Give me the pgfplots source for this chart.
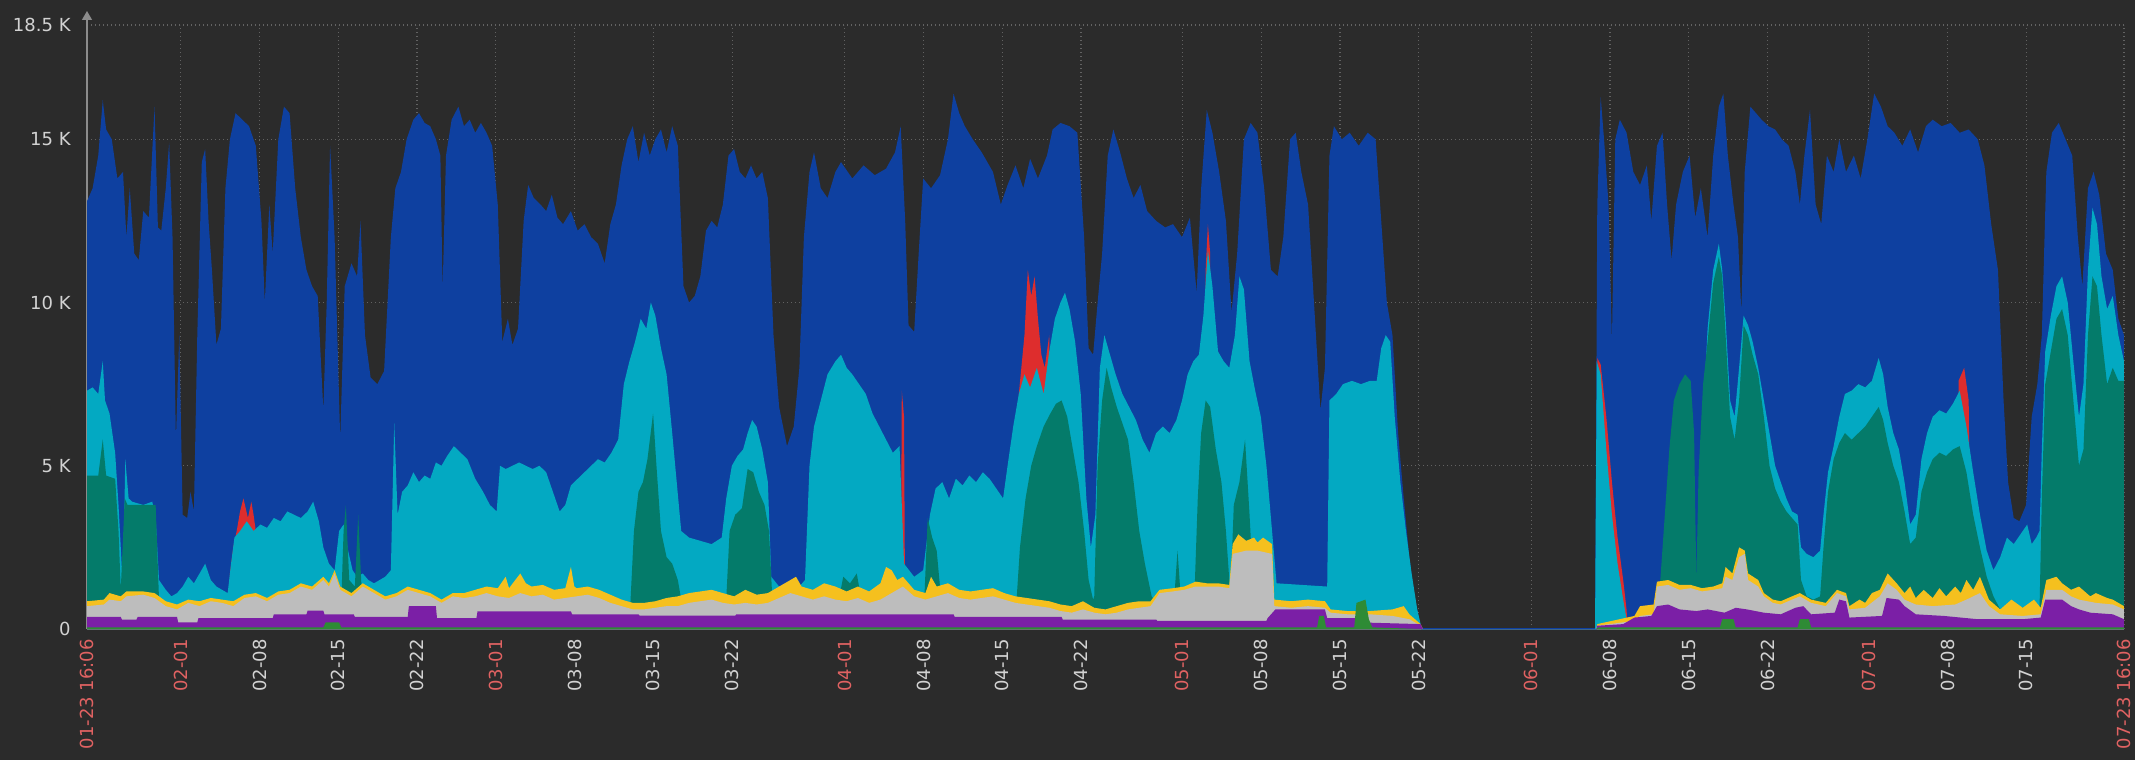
\documentclass[border=0pt]{standalone}
\usepackage{pgfplots}
\pgfplotsset{compat=1.18}
\usepackage{fontspec}
\setmainfont{DejaVu Sans}
\usetikzlibrary{arrows.meta}
\definecolor{bgc}{HTML}{2B2B2B}
\definecolor{cblue}{HTML}{0E40A0}
\definecolor{ccyan}{HTML}{03A9C2}
\definecolor{cteal}{HTML}{047B6A}
\definecolor{cred}{HTML}{DE2D2D}
\definecolor{cyel}{HTML}{F5C01E}
\definecolor{cgray}{HTML}{BDBDBD}
\definecolor{cpur}{HTML}{7B1FA6}
\definecolor{cgrn}{HTML}{2E8B35}
\definecolor{gridc}{HTML}{626262}
\definecolor{axc}{HTML}{8C8C8C}
\definecolor{labc}{HTML}{D2D2D2}
\definecolor{labr}{HTML}{E06262}
\newcommand{\R}[1]{\textcolor{labr}{#1}}
\begin{document}
\begin{tikzpicture}
\fill[bgc] (0,0) rectangle (1067.5pt,380pt);
\useasboundingbox (0,0) rectangle (1067.5pt,380pt);
\begin{axis}[
  at={(43.5pt,65.5pt)}, anchor=south west,
  scale only axis, width=1018.5pt, height=302pt,
  xmin=0, xmax=181, ymin=0, ymax=18500,
  axis x line=bottom, axis y line=left,
  x axis line style={-, draw=axc!60!bgc, line width=0.6pt},
  y axis line style={-{Triangle[width=5pt,length=4.5pt]}, draw=axc, line width=0.6pt, shorten >=-7pt},
  major tick length=0pt,
  grid=major,
  major grid style={draw=gridc, line width=0.6pt, dash pattern=on 0.7pt off 1.3pt},
  ytick={0,5000,10000,15000,18500},
  yticklabels={0,5 K,10 K,15 K,18.5 K},
  xtick={0,8.329,15.329,22.329,29.329,36.329,43.329,50.329,57.329,67.329,74.329,81.329,88.329,97.329,104.329,111.329,118.329,128.329,135.329,142.329,149.329,158.329,165.329,172.329,181},
  xticklabels={{\R{01-23 16:06}},{\R{02-01}},02-08,02-15,02-22,{\R{03-01}},03-08,03-15,03-22,{\R{04-01}},04-08,04-15,04-22,{\R{05-01}},05-08,05-15,05-22,{\R{06-01}},06-08,06-15,06-22,{\R{07-01}},07-08,07-15,{\R{07-23 16:06}}},
  x tick label style={rotate=90, anchor=east, inner sep=5pt, text=labc, font=\fontsize{9pt}{10pt}\selectfont},
  y tick label style={anchor=east, inner sep=8pt, text=labc, font=\fontsize{9pt}{10pt}\selectfont},
  scaled y ticks=false,
  no markers,
]
% blue (total)
\addplot[fill=cblue, draw=none] coordinates {(0,13100)(0.5,13500)(1.0,14500)(1.4,16200)(1.7,15300)(2.2,15000)(2.7,13800)(3.2,14000)(3.5,12000)(3.8,13500)(4.2,11500)(4.6,11300)(5.0,12800)(5.5,12600)(6.0,16000)(6.3,12300)(6.6,12200)(7.0,13500)(7.3,14900)(7.6,12000)(7.9,5800)(8.2,9000)(8.5,3500)(8.9,3400)(9.2,4200)(9.5,3600)(9.8,9000)(10.2,14300)(10.5,14700)(10.8,12500)(11.1,11000)(11.5,8700)(11.9,9200)(12.3,13500)(12.7,15000)(13.2,15800)(13.8,15600)(14.4,15400)(15.0,14800)(15.5,12500)(15.8,10000)(16.2,13000)(16.5,11500)(17.0,15000)(17.5,16000)(18.0,15800)(18.5,13500)(19.0,12000)(19.5,11000)(20.0,10500)(20.5,10200)(21.0,6700)(21.3,10000)(21.6,14800)(22.0,12000)(22.5,5800)(22.9,10500)(23.5,11200)(24.0,10800)(24.3,12500)(24.7,9000)(25.2,7700)(25.8,7500)(26.4,7900)(27.0,12000)(27.4,13500)(27.9,14000)(28.4,15000)(29.0,15600)(29.5,15800)(30.0,15500)(30.5,15400)(31.0,15000)(31.4,14500)(31.6,10400)(31.9,14500)(32.4,15600)(33.0,16000)(33.5,15400)(34.0,15600)(34.5,15200)(35.0,15500)(35.5,15200)(36.0,14800)(36.5,13000)(36.9,8800)(37.4,9500)(37.8,8700)(38.3,9200)(38.8,12500)(39.2,13600)(39.7,13200)(40.3,13000)(40.8,12800)(41.3,13300)(41.8,12600)(42.3,12400)(43.0,12800)(43.6,12200)(44.2,12400)(44.8,12000)(45.4,11800)(46.0,11200)(46.5,12400)(47.0,13000)(47.5,14200)(48.0,15000)(48.5,15400)(49.0,14300)(49.5,15200)(50.0,14500)(50.5,15000)(51.0,15300)(51.5,14600)(52.0,15400)(52.5,14800)(53.0,10500)(53.5,10000)(54.0,10200)(54.5,10800)(55.0,12200)(55.5,12500)(56.0,12300)(56.5,13000)(57.0,14500)(57.5,14700)(58.0,14000)(58.5,13800)(59.0,14200)(59.5,13800)(60.0,14000)(60.5,13200)(61.0,9000)(61.5,6800)(62.2,5600)(62.8,6200)(63.3,8000)(63.7,12000)(64.2,14000)(64.6,14600)(65.2,13500)(65.8,13200)(66.5,14000)(67.0,14300)(68.0,13800)(69.0,14200)(70.0,13900)(71.0,14100)(71.8,14600)(72.3,15400)(72.7,12500)(73.0,9300)(73.5,9100)(73.9,11500)(74.3,13800)(75.0,13500)(75.8,13900)(76.5,15000)(77.0,16400)(77.5,15800)(78.0,15400)(78.7,15000)(79.5,14600)(80.5,14000)(81.2,13000)(81.8,13600)(82.5,14200)(83.2,13500)(83.8,14400)(84.5,13800)(85.3,14500)(85.8,15300)(86.5,15500)(87.3,15400)(88.0,15200)(88.6,12000)(89.0,8600)(89.4,8400)(89.8,10000)(90.2,11500)(90.7,14500)(91.2,15300)(91.8,14600)(92.4,13800)(93.0,13200)(93.6,13600)(94.2,12800)(95.0,12500)(95.8,12300)(96.5,12400)(97.3,12000)(98.0,12600)(98.6,10300)(99.0,13500)(99.5,15900)(100.0,15200)(100.6,14000)(101.2,12500)(101.7,9700)(102.2,11500)(102.8,15000)(103.4,15500)(104.0,15200)(104.6,13500)(105.2,11000)(105.8,10800)(106.3,12000)(106.9,15000)(107.4,15200)(107.9,14000)(108.5,13000)(109.2,9000)(109.6,6700)(110.0,8000)(110.4,14500)(110.8,15400)(111.5,15000)(112.2,15200)(113.0,14800)(113.8,15200)(114.5,15000)(115.0,12500)(115.5,10000)(116.0,9000)(116.5,6000)(117.0,4000)(117.5,2200)(118.0,900)(118.5,100)(118.7,0)(134.0,0)(134.2,13000)(134.5,16300)(134.8,15000)(135.2,13000)(135.5,8800)(135.8,15000)(136.2,15600)(136.8,15200)(137.4,14000)(138.0,13600)(138.6,14200)(139.0,12500)(139.5,14800)(140.0,15200)(140.4,13000)(140.8,11300)(141.2,13000)(141.8,14000)(142.4,14500)(142.9,12600)(143.4,13500)(144.0,12000)(144.5,14500)(145.0,16000)(145.4,16400)(145.8,14500)(146.3,13000)(146.7,12000)(147.0,9700)(147.3,14000)(147.8,16000)(148.3,15800)(148.8,15600)(149.4,15400)(150.0,15300)(150.6,15000)(151.2,14800)(151.8,14000)(152.2,13000)(152.6,14500)(153.1,15900)(153.6,13000)(154.1,12400)(154.6,14500)(155.2,14000)(155.7,15000)(156.3,14000)(157.0,14500)(157.6,13800)(158.2,15000)(158.8,16400)(159.4,16000)(160.0,15400)(160.6,15200)(161.3,14800)(162.0,15300)(162.7,14600)(163.4,15400)(164.0,15600)(164.8,15400)(165.6,15500)(166.4,15200)(167.2,15300)(168.0,15000)(168.6,14200)(169.2,12400)(169.8,11000)(170.3,7000)(170.7,4500)(171.2,3400)(171.7,3300)(172.3,3800)(172.8,6500)(173.3,7500)(173.7,9000)(174.1,14000)(174.6,15200)(175.2,15500)(175.8,15000)(176.4,14500)(176.9,12000)(177.3,10500)(177.8,13500)(178.3,14000)(178.8,13300)(179.4,11500)(180.0,11000)(180.5,9500)(181.0,9000)} \closedcycle;
\addplot[cblue, line width=1pt] coordinates {(118.5,0)(134.2,0)};
% red
\addplot[fill=cred, draw=none] coordinates {(12.6,0)(12.7,1700)(13.0,2500)(13.3,3000)(13.6,3600)(13.9,4000)(14.1,3700)(14.3,3400)(14.6,3900)(14.8,3500)(15.0,3000)(15.1,0)} \closedcycle;
\addplot[fill=cred, draw=none] coordinates {(72.3,0)(72.4,7300)(72.6,6500)(72.7,0)} \closedcycle;
\addplot[fill=cred, draw=none] coordinates {(82.6,0)(82.8,7200)(83.3,9000)(83.6,11000)(83.9,10200)(84.2,10800)(84.5,9500)(84.8,8400)(85.1,8000)(85.5,9000)(85.7,0)} \closedcycle;
\addplot[fill=cred, draw=none] coordinates {(99.3,0)(99.4,11000)(99.6,12400)(99.8,11500)(99.9,0)} \closedcycle;
\addplot[fill=cred, draw=none] coordinates {(134.15,0)(134.2,8300)(134.5,8100)(135.0,6500)(135.5,4500)(136.0,2800)(136.5,1500)(136.8,600)(136.9,0)} \closedcycle;
\addplot[fill=cred, draw=none] coordinates {(166.2,0)(166.3,7600)(166.8,8000)(167.2,7000)(167.4,0)} \closedcycle;
% cyan
\addplot[fill=ccyan, draw=none] coordinates {(0,7300)(0.5,7400)(1.0,7200)(1.4,8200)(1.6,7000)(2.0,6600)(2.5,5400)(2.8,3800)(3.0,2500)(3.2,1200)(3.4,5200)(3.7,4000)(4.0,3900)(5.0,3800)(5.8,3900)(6.1,3400)(6.4,1500)(7.0,1200)(7.5,1000)(8.0,1100)(8.5,1300)(9.0,1600)(9.5,1400)(10.0,1700)(10.5,2000)(11.0,1500)(11.5,1300)(12.0,1200)(12.5,1100)(12.8,2000)(13.1,2800)(13.6,3000)(14.2,3300)(14.8,3000)(15.4,3200)(16.0,3100)(16.6,3400)(17.2,3300)(17.8,3600)(18.4,3500)(19.0,3400)(19.6,3600)(20.1,3900)(20.6,3300)(21.0,2500)(21.5,2000)(22.0,1800)(22.4,3000)(22.8,3200)(23.2,2400)(23.6,1800)(24.0,1600)(24.5,1700)(25.0,1500)(25.5,1400)(26.0,1500)(26.5,1600)(27.0,1800)(27.3,6300)(27.6,3500)(28.0,4200)(28.5,4400)(29.0,4800)(29.5,4500)(30.0,4700)(30.5,4600)(31.0,5100)(31.5,5000)(32.0,5300)(32.6,5600)(33.2,5400)(33.8,5200)(34.5,4600)(35.2,4200)(35.8,3800)(36.4,3600)(36.7,5000)(37.2,4900)(37.8,5000)(38.4,5100)(39.0,5000)(39.6,4900)(40.2,5000)(40.8,4800)(41.4,4200)(42.0,3600)(42.5,3800)(43.0,4400)(43.6,4600)(44.2,4800)(44.8,5000)(45.4,5200)(46.0,5100)(46.6,5400)(47.2,5800)(47.7,7500)(48.2,8200)(48.7,8800)(49.2,9500)(49.7,9200)(50.1,10000)(50.5,9600)(51.0,8600)(51.5,7800)(52.0,6000)(52.4,4500)(52.8,3000)(53.5,2800)(54.5,2700)(55.5,2600)(56.4,2800)(56.8,4000)(57.3,5000)(57.8,5300)(58.3,5500)(58.7,6000)(59.1,6400)(59.5,6200)(60.0,5500)(60.5,4500)(60.8,1600)(61.5,1300)(62.5,1200)(63.3,1300)(63.8,1500)(64.2,5000)(64.6,6200)(65.2,7000)(65.8,7800)(66.5,8200)(67.0,8400)(67.5,8000)(68.0,7800)(68.6,7500)(69.2,7200)(69.8,6600)(70.4,6200)(71.0,5800)(71.6,5400)(72.2,5600)(72.6,2000)(73.5,1600)(74.3,1800)(74.9,3500)(75.4,4300)(76.0,4500)(76.6,4000)(77.2,4600)(77.8,4400)(78.4,4700)(79.0,4500)(79.6,4800)(80.2,4600)(80.8,4300)(81.4,4000)(81.8,5000)(82.3,6200)(82.8,7200)(83.3,7800)(83.8,7400)(84.4,8000)(85.0,7200)(85.5,8500)(86.0,9500)(86.5,10000)(86.9,10300)(87.3,9800)(87.8,8800)(88.3,7200)(88.8,4000)(89.2,2500)(89.6,3500)(90.0,8000)(90.4,9000)(90.9,8400)(91.4,7800)(92.0,7200)(92.6,6800)(93.2,6400)(93.8,5800)(94.4,5400)(95.0,6000)(95.6,6200)(96.2,6000)(96.8,6400)(97.3,7000)(97.8,7800)(98.3,8200)(98.8,8400)(99.2,9600)(99.6,11600)(100.0,10500)(100.5,8500)(101.0,8200)(101.5,8000)(102.0,9000)(102.4,10800)(102.8,10400)(103.3,8200)(103.8,7300)(104.3,6500)(104.8,5000)(105.3,3000)(105.7,1400)(110.2,1300)(110.4,7000)(111.0,7200)(111.6,7500)(112.4,7600)(113.2,7500)(114.0,7600)(114.6,7600)(115.0,8600)(115.4,9000)(115.8,8800)(116.2,6500)(116.7,4500)(117.2,3000)(117.7,1700)(118.2,600)(118.6,0)(134.0,0)(134.15,8200)(134.5,7800)(135.0,5500)(135.5,3500)(136.0,2000)(136.5,900)(136.8,300)(137.0,0)(143.5,0)(143.8,7800)(144.0,9200)(144.5,11000)(145.0,11800)(145.3,11000)(145.6,9500)(146.0,7000)(146.4,6500)(146.8,8000)(147.2,9600)(147.6,9300)(148.0,8800)(148.5,8000)(149.0,7000)(149.5,6000)(150.0,5000)(150.5,4500)(151.0,4000)(151.5,3600)(152.0,3500)(152.3,2500)(152.8,2300)(153.4,2200)(154.0,2400)(154.3,3500)(154.7,4800)(155.2,5600)(155.7,6500)(156.2,7200)(156.8,7300)(157.4,7500)(158.0,7400)(158.6,7600)(159.2,8300)(159.6,7800)(160.0,6800)(160.5,6000)(161.0,5500)(161.5,4500)(162.0,3200)(162.5,3500)(163.0,5200)(163.5,6000)(164.0,6500)(164.6,6700)(165.2,6600)(165.8,6900)(166.4,7300)(167.0,6200)(167.6,4800)(168.2,3500)(168.8,2400)(169.4,1800)(170.0,2200)(170.6,2800)(171.2,2600)(171.8,2900)(172.4,3200)(172.8,2600)(173.2,2800)(173.5,3000)(173.7,5500)(174.0,8500)(174.5,9600)(175.0,10500)(175.5,10800)(176.0,10000)(176.5,8200)(177.0,6500)(177.4,7500)(177.8,11000)(178.2,12900)(178.6,12400)(179.0,10800)(179.5,9800)(180.0,10200)(180.5,9000)(181.0,8200)} \closedcycle;
% teal
\addplot[fill=cteal, draw=none] coordinates {(0,4700)(1.0,4700)(1.4,5800)(1.7,4700)(2.5,4600)(2.8,3000)(3.0,1200)(3.35,4000)(3.6,3800)(6.1,3800)(6.4,900)(6.5,0)(22.5,0)(22.6,900)(22.8,3000)(23.0,3800)(23.3,1500)(23.8,1300)(24.1,3500)(24.4,1200)(24.7,900)(24.8,0)(48.2,0)(48.3,900)(48.6,3000)(49.0,4200)(49.4,4500)(49.8,5200)(50.3,6600)(50.6,5000)(51.0,3000)(51.5,2200)(52.0,2000)(52.5,1500)(52.8,900)(52.9,0)(56.7,0)(56.8,900)(57.1,3000)(57.6,3500)(58.2,3700)(58.7,4900)(59.2,4800)(59.7,4200)(60.2,3800)(60.6,3000)(60.9,900)(61.0,0)(66.7,0)(66.8,900)(67.2,1600)(67.8,1400)(68.4,1700)(68.8,900)(68.9,0)(74.3,0)(74.4,900)(74.7,3400)(75.1,2800)(75.5,2400)(75.9,900)(76.0,0)(82.5,0)(82.6,900)(82.9,2500)(83.4,4000)(83.9,5000)(84.4,5600)(85.0,6200)(85.6,6600)(86.1,6900)(86.6,7000)(87.1,6500)(87.6,5500)(88.1,4500)(88.6,3000)(89.0,1500)(89.4,900)(89.5,1000)(89.8,5000)(90.2,7000)(90.6,8000)(91.0,7400)(91.5,6800)(92.0,6300)(92.5,5800)(93.0,4500)(93.5,3000)(94.0,2000)(94.6,1000)(95.0,800)(95.1,0)(96.5,0)(96.6,900)(96.9,2400)(97.2,900)(97.3,0)(98.3,0)(98.4,1000)(98.7,4000)(99.0,6000)(99.4,7000)(99.8,6800)(100.3,5500)(100.8,4500)(101.2,3000)(101.6,1000)(101.9,3800)(102.4,4500)(102.9,5800)(103.3,3500)(103.6,1500)(103.7,0)(139.6,0)(139.8,1500)(140.2,3500)(140.6,5500)(141.0,7000)(141.5,7500)(142.0,7800)(142.5,7600)(142.8,6000)(143.0,1500)(143.2,4800)(143.6,7500)(144.0,8800)(144.5,10600)(145.0,11400)(145.3,10800)(145.6,9000)(146.0,6500)(146.4,5800)(146.8,7000)(147.2,9300)(147.6,9000)(148.0,8400)(148.5,7800)(149.0,6500)(149.5,5000)(150.0,4300)(150.5,3900)(151.0,3600)(151.5,3400)(152.0,3200)(152.3,1500)(152.8,1000)(153.4,900)(154.0,1000)(154.3,2500)(154.7,4200)(155.2,5200)(155.7,5700)(156.2,6000)(156.8,5800)(157.4,6000)(158.0,6200)(158.6,6500)(159.2,6800)(159.6,6400)(160.0,5700)(160.5,5000)(161.0,4500)(161.5,3600)(162.0,2600)(162.5,2800)(163.0,4200)(163.5,4800)(164.0,5200)(164.6,5400)(165.2,5300)(165.8,5500)(166.4,5600)(167.0,4800)(167.6,3500)(168.2,2500)(168.8,1600)(169.4,1000)(170.0,600)(173.5,700)(173.7,4000)(174.0,7500)(174.5,8500)(175.0,9500)(175.5,9800)(176.0,9000)(176.5,7000)(177.0,5000)(177.4,5500)(177.8,9000)(178.2,10800)(178.6,10500)(179.0,9000)(179.5,7500)(180.0,8000)(180.5,7600)(181.0,7600)} \closedcycle;
% yellow
\addplot[fill=cyel, draw=none] coordinates {(0,850)(1.5,900)(2.0,1100)(3.0,1000)(3.5,1150)(5.0,1150)(6.0,1100)(7.0,850)(8.0,750)(9.0,900)(10.0,850)(11.0,950)(12.0,900)(13.0,850)(14.0,1050)(15.0,1100)(16.0,950)(17.0,1150)(18.0,1200)(19.0,1400)(20.0,1300)(21.0,1600)(21.5,1400)(22.0,1800)(22.5,1300)(23.5,1100)(24.5,1400)(25.5,1200)(26.5,1000)(27.5,1100)(28.5,1300)(29.5,1200)(30.5,1100)(31.5,900)(32.5,1100)(33.5,1100)(34.5,1200)(35.5,1300)(36.5,1250)(37.2,1600)(37.5,1250)(38.5,1700)(39.0,1400)(39.5,1300)(40.5,1350)(41.5,1200)(42.5,1250)(43.0,1900)(43.3,1300)(43.5,1250)(44.5,1300)(45.5,1200)(46.5,1050)(47.5,900)(48.5,800)(49.5,800)(50.5,850)(51.5,950)(52.5,1000)(53.5,1100)(54.5,1150)(55.5,1200)(56.5,1100)(57.5,1000)(58.5,1200)(59.5,1050)(60.5,1100)(61.5,1300)(62.5,1500)(63.0,1600)(63.5,1300)(64.5,1200)(65.5,1400)(66.5,1300)(67.5,1150)(68.5,1300)(69.5,1150)(70.5,1400)(71.0,1900)(71.5,1800)(72.0,1500)(72.5,1600)(73.5,1200)(74.5,1100)(75.0,1600)(75.5,1300)(76.5,1400)(77.5,1200)(78.5,1150)(79.5,1200)(80.5,1250)(81.5,1100)(82.5,1000)(83.5,950)(84.5,900)(85.5,850)(86.5,750)(87.5,700)(88.5,850)(89.5,650)(90.5,600)(91.5,700)(92.5,800)(93.5,850)(94.5,850)(95.3,1200)(96.5,1250)(97.5,1300)(98.5,1450)(99.5,1400)(100.5,1400)(101.5,1350)(101.8,2600)(102.3,2900)(103.0,2700)(103.7,2800)(104.0,2650)(104.5,2800)(105.3,2600)(105.5,900)(107.0,850)(108.5,900)(110.0,850)(110.5,600)(112.0,550)(114.0,550)(116.0,600)(117.0,700)(117.5,450)(118.5,150)(118.7,0)(134.1,0)(134.2,150)(137.5,400)(138.0,700)(139.2,750)(139.5,1450)(140.5,1500)(141.5,1350)(142.5,1350)(143.5,1250)(144.5,1300)(145.3,1400)(145.6,1900)(146.2,1700)(146.8,2500)(147.3,2400)(147.6,1700)(148.5,1500)(149.0,1100)(149.8,900)(150.5,850)(151.5,1000)(152.2,1100)(153.2,900)(154.5,800)(155.5,1200)(156.3,1100)(156.6,700)(157.5,900)(158.0,800)(158.6,1100)(159.3,1200)(160.0,1700)(160.8,1400)(161.5,1100)(162.0,1300)(162.5,950)(163.2,1200)(164.0,950)(164.6,1250)(165.2,1000)(166.0,1300)(166.5,1100)(167.0,1500)(167.6,1200)(168.2,1600)(169.0,900)(170.0,600)(171.0,900)(172.0,650)(173.0,900)(173.6,650)(174.1,1500)(175.0,1600)(175.5,1400)(176.3,1200)(177.0,1300)(178.0,1000)(178.5,1100)(179.5,950)(180.0,900)(181.0,700)} \closedcycle;
% gray
\addplot[fill=cgray, draw=none] coordinates {(0,700)(1.5,750)(2.0,900)(3.0,850)(3.5,1000)(5.0,1050)(6.0,950)(7.0,700)(8.0,600)(9.0,800)(10.0,700)(11.0,850)(12.0,800)(13.0,700)(14.0,950)(15.0,1000)(16.0,850)(17.0,1050)(18.0,1100)(19.0,1300)(20.0,1200)(21.0,1500)(21.5,1300)(22.0,1700)(22.5,1200)(23.5,1000)(24.5,1300)(25.5,1100)(26.5,900)(27.5,1000)(28.5,1200)(29.5,1100)(30.5,1000)(31.5,800)(32.5,1000)(33.5,950)(34.5,1000)(35.5,1100)(36.5,1000)(37.5,950)(38.5,1100)(39.5,1000)(40.5,1050)(41.5,900)(42.5,950)(43.5,1000)(44.5,1050)(45.5,950)(46.5,800)(47.5,700)(48.5,600)(49.5,600)(50.5,650)(51.5,700)(52.5,700)(53.5,800)(54.5,850)(55.5,900)(56.5,800)(57.5,750)(58.5,800)(59.5,750)(60.5,800)(61.5,950)(62.5,1100)(63.5,1000)(64.5,900)(65.5,1000)(66.5,900)(67.5,850)(68.5,950)(69.5,800)(70.5,900)(71.5,1100)(72.5,1300)(73.5,1000)(74.5,900)(75.5,1000)(76.5,1100)(77.5,950)(78.5,900)(79.5,950)(80.5,1000)(81.5,900)(82.5,800)(83.5,750)(84.5,700)(85.5,650)(86.5,550)(87.5,500)(88.5,600)(89.5,500)(90.5,450)(91.5,500)(92.5,600)(93.5,650)(94.5,700)(95.3,1100)(96.5,1150)(97.5,1200)(98.5,1300)(99.5,1300)(100.5,1300)(101.5,1250)(101.8,2300)(103.0,2400)(104.0,2400)(105.3,2300)(105.5,700)(107.0,650)(108.5,700)(110.0,650)(110.5,500)(112.0,450)(114.0,450)(116.0,400)(117.5,300)(118.5,100)(118.7,0)(134.1,0)(134.2,100)(137.5,250)(138.0,400)(139.2,450)(139.5,1300)(140.5,1350)(141.5,1200)(142.5,1250)(143.5,1150)(144.5,1200)(145.3,1250)(145.6,1600)(146.2,1500)(146.8,2200)(147.3,2300)(147.6,1500)(148.5,1300)(149.0,1000)(149.8,800)(150.5,750)(151.5,900)(152.2,1000)(153.2,800)(154.5,700)(155.5,1100)(156.3,1000)(156.6,600)(158.0,650)(159.3,1000)(160.0,1400)(160.8,1200)(161.5,900)(162.5,750)(164.0,700)(166.0,750)(167.0,900)(168.2,1100)(169.0,700)(170.0,450)(172.0,400)(173.6,450)(174.1,1200)(175.5,1200)(176.3,1000)(177.0,900)(178.5,800)(180.0,750)(181.0,600)} \closedcycle;
% purple
\addplot[fill=cpur, draw=none] coordinates {(0,370)(3.0,370)(3.1,290)(4.4,290)(4.5,370)(8.0,370)(8.1,200)(9.8,200)(9.9,330)(16.5,330)(16.6,450)(19.5,450)(19.6,560)(21.0,560)(21.1,450)(23.7,450)(23.8,370)(28.5,370)(28.6,700)(31.0,700)(31.1,330)(34.6,330)(34.7,540)(43.0,540)(43.1,450)(49.0,450)(49.1,410)(57.6,410)(57.7,450)(77.0,450)(77.1,370)(86.6,370)(86.7,290)(95.0,290)(95.1,250)(104.8,250)(104.9,330)(105.6,600)(110.0,600)(110.2,330)(113.2,330)(113.3,200)(118.5,150)(118.7,0)(134.1,0)(134.2,100)(136.5,150)(137.5,350)(139.0,400)(139.5,700)(140.5,750)(141.5,600)(143.0,550)(144.0,600)(145.5,500)(146.5,650)(147.5,600)(149.0,500)(150.5,450)(151.8,650)(152.5,700)(153.2,450)(155.3,500)(155.7,900)(156.3,850)(156.6,350)(159.5,400)(159.9,950)(161.0,900)(161.5,700)(162.5,450)(165.0,400)(168.0,300)(172.0,300)(173.6,350)(174.0,900)(175.5,900)(176.3,700)(177.0,600)(178.0,500)(180.0,450)(181.0,300)} \closedcycle;
% green
\addplot[fill=cgrn, draw=none] coordinates {(0,50)(21.0,50)(21.2,200)(22.4,200)(22.6,50)(109.3,50)(109.5,400)(109.9,400)(110.1,50)(112.6,50)(112.8,800)(113.6,900)(113.9,300)(114.2,50)(118.5,0)(134.1,0)(134.3,50)(145.1,50)(145.3,300)(146.3,300)(146.5,50)(152.0,50)(152.2,300)(153.0,300)(153.2,50)(181.0,50)} \closedcycle;
\end{axis}
\end{tikzpicture}
\end{document}
